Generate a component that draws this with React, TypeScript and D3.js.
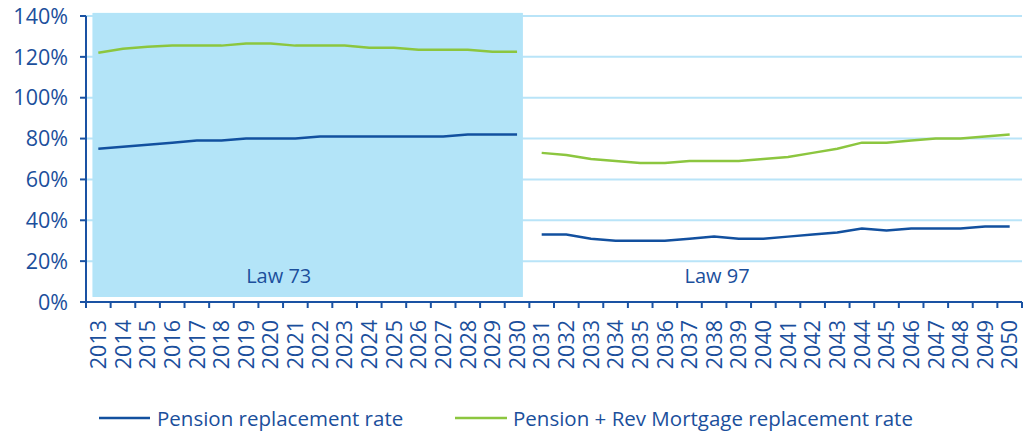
import React from 'react';
import * as d3 from 'd3';

// categories
const years73 = ['2013', '2014', '2015', '2016', '2017', '2018', '2019', '2020', '2021',
  '2022', '2023', '2024', '2025', '2026', '2027', '2028', '2029', '2030'];
const years97 = ['2031', '2032', '2033', '2034', '2035', '2036', '2037', '2038', '2039', '2040',
  '2041', '2042', '2043', '2044', '2045', '2046', '2047', '2048', '2049', '2050'];
const years = [...years73, ...years97];

// series values (%)
const pension73 = [75, 76, 77, 78, 79, 79, 80, 80, 80, 81, 81, 81, 81, 81, 81, 82, 82, 82];
const pensionRm73 = [122, 124, 125, 125.5, 125.5, 125.5, 126.5, 126.5, 125.5, 125.5, 125.5,
  124.5, 124.5, 123.5, 123.5, 123.5, 122.5, 122.5];
const pension97 = [33, 33, 31, 30, 30, 30, 31, 32, 31, 31, 32, 33, 34, 36, 35, 36, 36, 36, 37, 37];
const pensionRm97 = [73, 72, 70, 69, 68, 68, 69, 69, 69, 70, 71, 73, 75, 78, 78, 79, 80, 80, 81, 82];

const yTicks = [0, 20, 40, 60, 80, 100, 120, 140];
// shaded Law 73 period, bottom/top in %
const shadeRange = [2.5, 141.5];

const TEXT = '#1b4f9c';
const AXIS = '#1a52a3';
const GRID = '#b9e4f8';
const SHADE = '#b3e4f8';
const BLUE = '#12509f';
const GREEN = '#8cc63f';
const FONT = '"Open Sans", sans-serif';

export default function App() {
  const width = 1024;
  const height = 432;
  const margin = { top: 16, right: 2, bottom: 130, left: 86 };

  const x = d3.scaleBand<string>()
    .domain(years)
    .range([margin.left, width - margin.right])
    .padding(0);
  const bw = x.bandwidth();
  const cx = (y: string) => (x(y) as number) + bw / 2;

  const y = d3.scaleLinear()
    .domain([0, 140])
    .range([height - margin.bottom, margin.top]);

  const line = d3.line<[string, number]>()
    .x(d => cx(d[0]))
    .y(d => y(d[1]));

  const zip = (ys: string[], vs: number[]) => ys.map((yr, i) => [yr, vs[i]] as [string, number]);

  const x0 = margin.left;
  const x1 = width - margin.right;
  const axisY = y(0);

  return (
    <svg width={width} height={height} style={{ position: 'absolute', left: 0, top: 0, fontFamily: FONT }}>
      {/* shaded region */}
      <rect
        x={cx(years73[0]) - bw * 0.23}
        y={y(shadeRange[1])}
        width={cx(years73[years73.length - 1]) - cx(years73[0]) + bw * 0.46}
        height={y(shadeRange[0]) - y(shadeRange[1])}
        fill={SHADE}
      />
      {/* gridlines */}
      {yTicks.filter(t => t > 0).map(t => (
        <line key={t} x1={x0} x2={x1} y1={y(t)} y2={y(t)} stroke={GRID} strokeWidth={2} />
      ))}
      {/* redraw shade on top of grid inside Law 73 region */}
      <rect
        x={cx(years73[0]) - bw * 0.23}
        y={y(shadeRange[1])}
        width={cx(years73[years73.length - 1]) - cx(years73[0]) + bw * 0.46}
        height={y(shadeRange[0]) - y(shadeRange[1])}
        fill={SHADE}
      />
      {/* lines */}
      <path d={line(zip(years73, pensionRm73)) || ''} fill="none" stroke={GREEN} strokeWidth={2.5} />
      <path d={line(zip(years73, pension73)) || ''} fill="none" stroke={BLUE} strokeWidth={2.5} />
      <path d={line(zip(years97, pensionRm97)) || ''} fill="none" stroke={GREEN} strokeWidth={2.5} />
      <path d={line(zip(years97, pension97)) || ''} fill="none" stroke={BLUE} strokeWidth={2.5} />

      {/* y axis */}
      <line x1={x0} x2={x0} y1={y(140)} y2={axisY} stroke={AXIS} strokeWidth={2} />
      {yTicks.map(t => (
        <g key={t}>
          <line x1={x0 - 6} x2={x0} y1={y(t)} y2={y(t)} stroke={AXIS} strokeWidth={2} />
          <text x={x0 - 18} y={y(t)} dy="0.36em" textAnchor="end" fontSize={21.5} fill={TEXT}>
            {t + '%'}
          </text>
        </g>
      ))}

      {/* x axis */}
      <line x1={x0 - 6} x2={x1} y1={axisY} y2={axisY} stroke={AXIS} strokeWidth={2} />
      {years.map(yr => (
        <line key={'t' + yr} x1={(x(yr) as number) + bw} x2={(x(yr) as number) + bw}
          y1={axisY} y2={axisY + 6} stroke={AXIS} strokeWidth={2} />
      ))}
      <line x1={x0} x2={x0} y1={axisY} y2={axisY + 6} stroke={AXIS} strokeWidth={2} />
      {years.map(yr => (
        <text key={'l' + yr} transform={`translate(${cx(yr)},${axisY + 18}) rotate(-90)`}
          textAnchor="end" dy="0.36em" fontSize={21.5} fill={TEXT}>
          {yr}
        </text>
      ))}

      {/* period labels */}
      <text x={cx('2020') + 8} y={283} textAnchor="middle" fontSize={20} fill={TEXT}>Law 73</text>
      <text x={cx('2038') + 3} y={283} textAnchor="middle" fontSize={20} fill={TEXT}>Law 97</text>

      {/* legend */}
      <line x1={99} x2={150} y1={418} y2={418} stroke={BLUE} strokeWidth={2.5} />
      <text x={157} y={426} fontSize={20.5} fill={TEXT}>Pension replacement rate</text>
      <line x1={455} x2={507} y1={418} y2={418} stroke={GREEN} strokeWidth={2.5} />
      <text x={513} y={426} fontSize={20.5} fill={TEXT}>Pension + Rev Mortgage replacement rate</text>
    </svg>
  );
}
